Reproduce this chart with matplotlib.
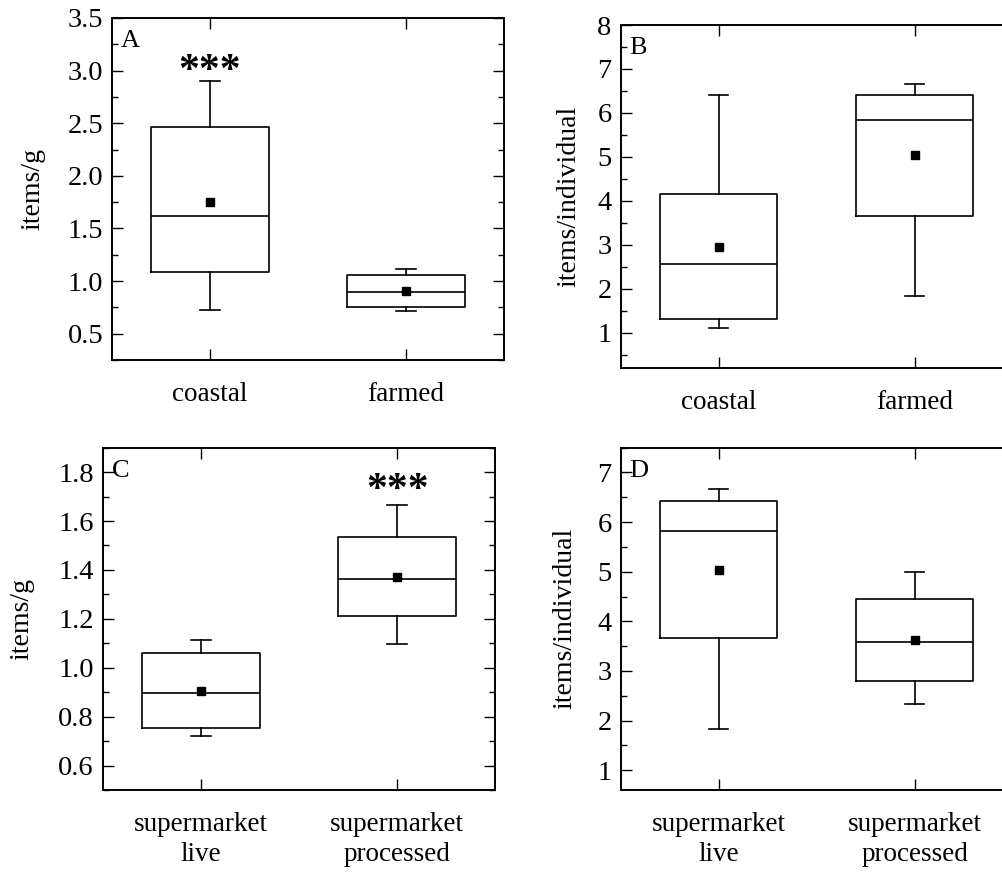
import matplotlib
matplotlib.use('Agg')
import matplotlib.pyplot as plt
from matplotlib.ticker import MultipleLocator, FormatStrFormatter

plt.rcParams['font.family'] = ['Liberation Serif', 'DejaVu Serif']
plt.rcParams['font.size'] = 19

# box stats per panel: whisker low, q1, median, q3, whisker high, mean
labels_ab = ['coastal', 'farmed']
labels_cd = ['supermarket\nlive', 'supermarket\nprocessed']

a_low = [0.725, 0.718]
a_q1 = [1.09, 0.753]
a_med = [1.62, 0.896]
a_q3 = [2.46, 1.06]
a_high = [2.90, 1.117]
a_mean = [1.75, 0.905]

b_low = [1.12, 1.84]
b_q1 = [1.31, 3.655]
b_med = [2.556, 5.83]
b_q3 = [4.156, 6.415]
b_high = [6.415, 6.67]
b_mean = [2.95, 5.04]

c_low = [0.72, 1.097]
c_q1 = [0.752, 1.21]
c_med = [0.895, 1.363]
c_q3 = [1.06, 1.535]
c_high = [1.115, 1.665]
c_mean = [0.907, 1.37]

d_low = [1.83, 2.33]
d_q1 = [3.66, 2.79]
d_med = [5.83, 3.59]
d_q3 = [6.416, 4.45]
d_high = [6.66, 5.0]
d_mean = [5.04, 3.62]


def make_stats(low, q1, med, q3, high, mean):
    return [dict(whislo=low[i], q1=q1[i], med=med[i], q3=q3[i], whishi=high[i],
                 mean=mean[i], fliers=[]) for i in range(len(low))]


def draw_panel(ax, stats, names, ylim, major, minor, ylabel, letter, lpad, star_at=None):
    lp = dict(color='black', linewidth=1.2)
    ax.bxp(stats, positions=[1, 2], widths=0.6, capwidths=0.1, showmeans=True,
           showfliers=False, boxprops=lp, whiskerprops=lp, capprops=lp,
           medianprops=lp,
           meanprops=dict(marker='s', markerfacecolor='black',
                          markeredgecolor='black', markersize=5.5))
    ax.set_xlim(0.5, 2.5)
    ax.set_ylim(*ylim)
    ax.set_xticks([1, 2])
    ax.set_xticklabels(names, fontsize=19.5, linespacing=1.25)
    ax.yaxis.set_major_locator(MultipleLocator(major))
    ax.yaxis.set_minor_locator(MultipleLocator(minor))
    ax.tick_params(which='both', direction='in', top=True, right=True, width=1)
    ax.tick_params(which='major', length=8)
    ax.tick_params(which='minor', length=4.5)
    ax.tick_params(axis='y', pad=6.5, labelsize=20.5)
    ax.tick_params(axis='x', pad=16)
    ax.xaxis.set_tick_params(which='minor', bottom=False, top=False)
    for s in ax.spines.values():
        s.set_linewidth(1.4)
    ax.set_ylabel(ylabel, labelpad=lpad, fontsize=20)
    ax.text(0.022, 0.965, letter, transform=ax.transAxes, ha='left', va='top', fontsize=19)
    if star_at is not None:
        ax.text(star_at[0], star_at[1], '***', ha='center', va='center',
                fontsize=30, fontweight='bold')


fig = plt.figure(figsize=(10.03, 8.72), dpi=100)
ax_a = fig.add_axes([0.1117, 0.5872, 0.3908, 0.3922])
ax_b = fig.add_axes([0.6188, 0.5780, 0.3908, 0.3933])
ax_c = fig.add_axes([0.1027, 0.0940, 0.3911, 0.3926])
ax_d = fig.add_axes([0.6188, 0.0940, 0.3908, 0.3926])

draw_panel(ax_a, make_stats(a_low, a_q1, a_med, a_q3, a_high, a_mean), labels_ab,
           (0.25, 3.5), 0.5, 0.25, 'items/g', 'A', 15.5, star_at=(1, 2.99))
draw_panel(ax_b, make_stats(b_low, b_q1, b_med, b_q3, b_high, b_mean), labels_ab,
           (0.2, 8), 1, 0.5, 'items/individual', 'B', 11.5)
draw_panel(ax_c, make_stats(c_low, c_q1, c_med, c_q3, c_high, c_mean), labels_cd,
           (0.5, 1.9), 0.2, 0.1, 'items/g', 'C', 17.5, star_at=(2, 1.722))
draw_panel(ax_d, make_stats(d_low, d_q1, d_med, d_q3, d_high, d_mean), labels_cd,
           (0.6, 7.5), 1, 0.5, 'items/individual', 'D', 14.5)

ax_a.yaxis.set_major_formatter(FormatStrFormatter('%.1f'))
ax_c.yaxis.set_major_formatter(FormatStrFormatter('%.1f'))

fig.savefig('out.png', dpi=100)
